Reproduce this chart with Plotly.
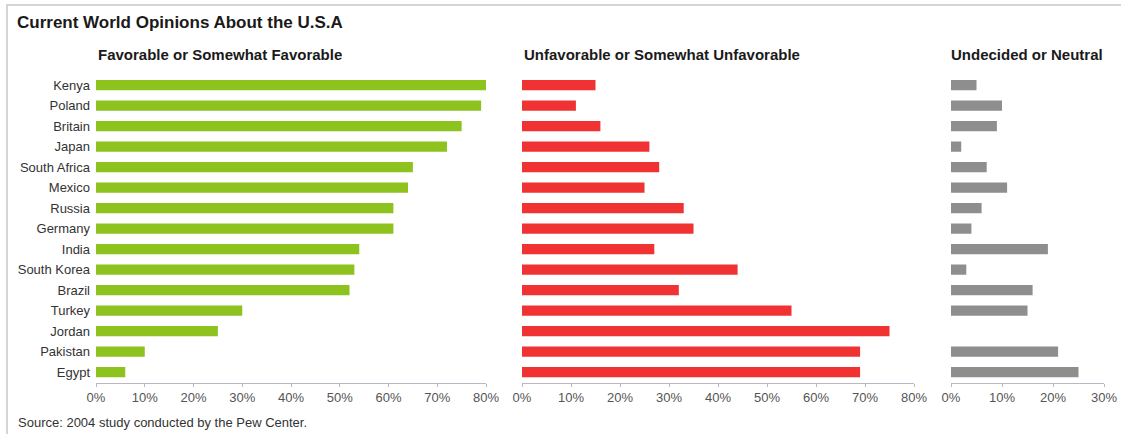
import plotly.graph_objects as go

countries = ["Kenya", "Poland", "Britain", "Japan", "South Africa", "Mexico", "Russia",
             "Germany", "India", "South Korea", "Brazil", "Turkey", "Jordan", "Pakistan", "Egypt"]
favorable = [80, 79, 75, 72, 65, 64, 61, 61, 54, 53, 52, 30, 25, 10, 6]
unfavorable = [15, 11, 16, 26, 28, 25, 33, 35, 27, 44, 32, 55, 75, 69, 69]
neutral = [5, 10, 9, 2, 7, 11, 6, 4, 19, 3, 16, 15, 0, 21, 25]

W, H = 1121, 434
FONT = "Liberation Sans, Arial, sans-serif"

fig = go.Figure()
fig.add_trace(go.Bar(y=countries, x=favorable, orientation="h", marker_color="#8DC21F",
                     marker_line_width=0, xaxis="x", yaxis="y", showlegend=False))
fig.add_trace(go.Bar(y=countries, x=unfavorable, orientation="h", marker_color="#F03232",
                     marker_line_width=0, xaxis="x2", yaxis="y2", showlegend=False))
fig.add_trace(go.Bar(y=countries, x=neutral, orientation="h", marker_color="#8E8E8E",
                     marker_line_width=0, xaxis="x3", yaxis="y3", showlegend=False))

ydom = [1 - 382.5 / H, 1 - 74.75 / H]

def xax(dom, rng, anchor):
    return dict(domain=[dom[0] / W, dom[1] / W], range=rng, dtick=10, ticksuffix="%",
                showgrid=False, zeroline=False, showline=True, linecolor="#B8B8C4", linewidth=1,
                ticks="outside", ticklen=3, tickcolor="#B8B8C4", anchor=anchor, automargin=False,
                tickfont=dict(family=FONT, size=13, color="#555555"), fixedrange=True)

def yax(anchor, labels):
    return dict(domain=ydom, autorange="reversed", showgrid=False, zeroline=False,
                showline=False, ticks="", showticklabels=labels, anchor=anchor, automargin=False,
                ticklabelstandoff=5,
                tickfont=dict(family=FONT, size=13, color="#333333"), fixedrange=True)

fig.update_layout(
    width=W, height=H,
    template="none",
    margin=dict(l=0, r=0, t=0, b=0, autoexpand=False),
    paper_bgcolor="white", plot_bgcolor="white",
    bargap=0.5,
    xaxis=xax([96, 486], [0, 80], "y"),
    xaxis2=xax([522, 914], [0, 80], "y2"),
    xaxis3=xax([951, 1104], [0, 30], "y3"),
    yaxis=yax("x", True),
    yaxis2=yax("x2", False),
    yaxis3=yax("x3", False),
    font=dict(family=FONT),
    shapes=[dict(type="rect", xref="paper", yref="paper", x0=7 / W, x1=1.01, y0=-0.02, y1=1 - 5 / H,
                 line=dict(color="#C8C8C8", width=1.5), fillcolor="rgba(0,0,0,0)", layer="below")],
    annotations=[
        dict(text="<b>Current World Opinions About the U.S.A</b>", x=15 / W, y=1 - 22 / H,
             xref="paper", yref="paper", xanchor="left", yanchor="middle", showarrow=False,
             font=dict(family=FONT, size=17, color="#1a1a1a")),
        dict(text="<b>Favorable or Somewhat Favorable</b>", x=96 / W, y=1 - 55 / H,
             xref="paper", yref="paper", xanchor="left", yanchor="middle", showarrow=False,
             font=dict(family=FONT, size=15, color="#1a1a1a")),
        dict(text="<b>Unfavorable or Somewhat Unfavorable</b>", x=522 / W, y=1 - 55 / H,
             xref="paper", yref="paper", xanchor="left", yanchor="middle", showarrow=False,
             font=dict(family=FONT, size=15, color="#1a1a1a")),
        dict(text="<b>Undecided or Neutral</b>", x=949 / W, y=1 - 55 / H,
             xref="paper", yref="paper", xanchor="left", yanchor="middle", showarrow=False,
             font=dict(family=FONT, size=15, color="#1a1a1a")),
        dict(text="Source: 2004 study conducted by the Pew Center.", x=16 / W, y=1 - 422 / H,
             xref="paper", yref="paper", xanchor="left", yanchor="middle", showarrow=False,
             font=dict(family=FONT, size=13, color="#333333")),
    ],
)

fig.write_html("out.html")
